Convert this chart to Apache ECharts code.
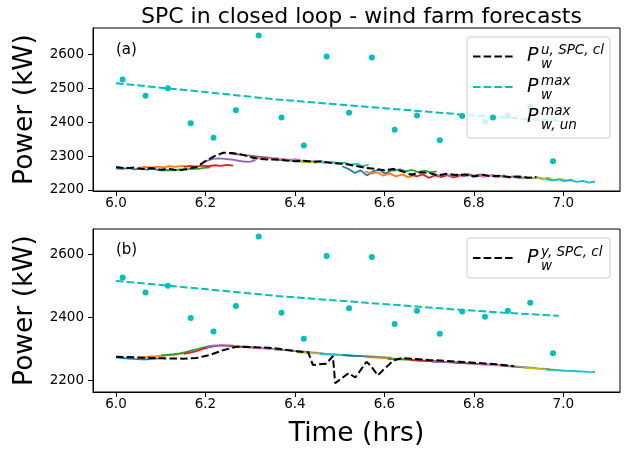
<!DOCTYPE html>
<html>
<head>
<meta charset="utf-8">
<script src="https://cdn.jsdelivr.net/npm/echarts@6.0.0/dist/echarts.min.js"></script>
<style>
html,body{margin:0;padding:0;background:#fff;}
#chart{width:636px;height:451px;}
</style>
</head>
<body>
<div id="chart"></div>
<script>
// ticks
var xTicks = [6.0, 6.2, 6.4, 6.6, 6.8, 7.0];
var yTicksA = [2200, 2300, 2400, 2500, 2600];
var yTicksB = [2200, 2400, 2600];

// forecast windows: start time of each forecast + offsets inside the window (hrs)
var fcStart = [6.000, 6.051, 6.101, 6.152, 6.202, 6.253, 6.304, 6.354, 6.405, 6.455,
               6.506, 6.557, 6.607, 6.658, 6.708, 6.759, 6.810, 6.860, 6.911, 6.961];
var fcOffset = [0, 0.014, 0.028, 0.041, 0.055, 0.069, 0.083, 0.096, 0.11];

// (a) forecasts of u
var fcA = [
  [2264, 2262, 2265, 2261, 2263, 2260, 2262, 2259, 2261],
  [2265, 2268, 2266, 2269, 2267, 2270, 2268, 2271, 2269],
  [2257, 2259, 2258, 2261, 2260, 2263, 2262, 2265, 2267],
  [2268, 2271, 2269, 2272, 2270, 2273, 2271, 2274, 2272],
  [2285, 2292, 2293, 2292, 2290, 2287, 2284, 2283, 2288],
  [2308, 2306, 2304, 2302, 2300, 2298, 2296, 2294, 2293],
  [2292, 2294, 2291, 2293, 2290, 2292, 2289, 2291, 2288],
  [2290, 2288, 2289, 2286, 2287, 2284, 2285, 2283, 2284],
  [2284, 2282, 2283, 2281, 2282, 2280, 2281, 2279, 2280],
  [2284, 2280, 2283, 2278, 2281, 2274, 2278, 2270, 2275],
  [2270, 2262, 2250, 2258, 2243, 2255, 2260, 2248, 2258],
  [2255, 2248, 2252, 2242, 2249, 2240, 2246, 2238, 2243],
  [2260, 2257, 2261, 2255, 2259, 2253, 2257, 2252, 2255],
  [2248, 2240, 2246, 2236, 2243, 2238, 2244, 2237, 2241],
  [2245, 2242, 2246, 2241, 2245, 2240, 2244, 2240, 2243],
  [2246, 2243, 2247, 2242, 2245, 2241, 2244, 2240, 2243],
  [2242, 2239, 2243, 2237, 2241, 2236, 2240, 2235, 2238],
  [2240, 2237, 2240, 2235, 2238, 2234, 2237, 2233, 2236],
  [2238, 2235, 2238, 2232, 2235, 2229, 2233, 2228, 2231],
  [2232, 2228, 2231, 2226, 2229, 2224, 2227, 2222, 2225]
];

// (b) forecasts of y
var fcB = [
  [2272, 2270, 2268, 2267, 2266, 2266, 2267, 2269, 2271],
  [2271, 2273, 2275, 2276, 2278, 2279, 2281, 2284, 2288],
  [2278, 2280, 2282, 2285, 2289, 2294, 2299, 2304, 2308],
  [2283, 2287, 2292, 2298, 2304, 2308, 2310, 2310, 2309],
  [2305, 2309, 2310, 2309, 2308, 2307, 2306, 2305, 2304],
  [2307, 2306, 2305, 2304, 2303, 2302, 2301, 2300, 2299],
  [2302, 2301, 2300, 2299, 2298, 2296, 2295, 2293, 2292],
  [2297, 2296, 2295, 2293, 2291, 2290, 2288, 2286, 2285],
  [2288, 2287, 2286, 2285, 2284, 2283, 2282, 2281, 2280],
  [2283, 2282, 2281, 2280, 2279, 2278, 2277, 2276, 2275],
  [2279, 2278, 2277, 2276, 2275, 2274, 2273, 2272, 2271],
  [2273, 2272, 2271, 2270, 2269, 2268, 2267, 2266, 2265],
  [2267, 2266, 2266, 2265, 2264, 2263, 2262, 2261, 2260],
  [2263, 2262, 2261, 2260, 2259, 2258, 2257, 2256, 2255],
  [2258, 2257, 2257, 2256, 2255, 2254, 2253, 2252, 2251],
  [2255, 2254, 2253, 2252, 2251, 2250, 2249, 2248, 2247],
  [2250, 2249, 2248, 2247, 2246, 2245, 2243, 2242, 2241],
  [2245, 2244, 2243, 2241, 2240, 2239, 2237, 2236, 2235],
  [2239, 2238, 2236, 2235, 2234, 2233, 2231, 2230, 2229],
  [2233, 2232, 2231, 2230, 2229, 2228, 2227, 2226, 2225]
];

// closed loop SPC outputs
var clA_t = [6.00, 6.02, 6.04, 6.06, 6.08, 6.10, 6.12, 6.14, 6.16, 6.18, 6.20, 6.22, 6.24, 6.26, 6.28,
             6.30, 6.32, 6.34, 6.36, 6.38, 6.40, 6.42, 6.44, 6.46, 6.48, 6.50, 6.52, 6.54, 6.56, 6.58,
             6.60, 6.62, 6.64, 6.66, 6.68, 6.70, 6.72, 6.74, 6.76, 6.78, 6.80, 6.82, 6.84, 6.86, 6.88,
             6.90, 6.92, 6.94];
var clA_v = [2268, 2264, 2266, 2262, 2265, 2260, 2262, 2258, 2262, 2268, 2285, 2300, 2310, 2309, 2305,
             2297, 2292, 2290, 2290, 2287, 2285, 2286, 2283, 2285, 2280, 2278, 2275, 2270, 2265, 2262,
             2258, 2262, 2255, 2245, 2252, 2250, 2243, 2248, 2244, 2246, 2240, 2245, 2240, 2242, 2238,
             2240, 2236, 2238];
var clB_t = [6.00, 6.05, 6.10, 6.15, 6.18, 6.21, 6.24, 6.27, 6.30, 6.35, 6.40, 6.43, 6.44, 6.47,
             6.485, 6.49, 6.52, 6.535, 6.56, 6.57, 6.585, 6.62, 6.64, 6.70, 6.77, 6.85, 6.89];
var clB_v = [2274, 2272, 2269, 2268, 2270, 2280, 2295, 2306, 2305, 2302, 2292, 2288, 2248, 2252,
             2276, 2190, 2222, 2208, 2258, 2245, 2215, 2262, 2270, 2264, 2258, 2250, 2244];

// max available power
var pmax_t = [6.00, 6.10, 6.20, 6.36, 6.51, 6.65, 6.77, 6.88, 6.99];
var pmax_v = [2515, 2502, 2489, 2467, 2451, 2436, 2423, 2413, 2404];
var pun_t = [6.015, 6.066, 6.116, 6.167, 6.218, 6.268, 6.319, 6.370, 6.420, 6.471,
             6.521, 6.572, 6.623, 6.673, 6.724, 6.774, 6.825, 6.876, 6.926, 6.977];
var pun_v = [2526, 2478, 2500, 2397, 2354, 2435, 2656, 2414, 2331, 2594,
             2428, 2591, 2378, 2420, 2347, 2418, 2401, 2420, 2446, 2285];

var colors = ['#1f77b4', '#ff7f0e', '#2ca02c', '#d62728', '#9467bd',
              '#8c564b', '#e377c2', '#7f7f7f', '#bcbd22', '#17becf'];
var FONT = 'DejaVu Sans';

function pairs(t, v) {
    var out = [];
    for (var i = 0; i < t.length; i++) out.push([t[i], v[i]]);
    return out;
}

function xAxisCfg(idx, name) {
    return {
        type: 'value', gridIndex: idx, min: 5.9486, max: 7.1268,
        axisLine: {show: true, onZero: false, lineStyle: {color: '#000', width: 1}},
        axisTick: {show: true, length: 5, customValues: xTicks, lineStyle: {color: '#000'}},
        axisLabel: {customValues: xTicks, color: '#000', fontSize: 13.5, fontFamily: FONT, margin: 5,
            formatter: function (v) { return v.toFixed(1); }},
        splitLine: {show: false},
        name: name, nameLocation: 'middle', nameGap: 29,
        nameTextStyle: {color: '#000', fontSize: 26.5, fontFamily: FONT}
    };
}

function yAxisCfg(idx, min, max, ticks) {
    return {
        type: 'value', gridIndex: idx, min: min, max: max,
        axisLine: {show: true, onZero: false, lineStyle: {color: '#000', width: 1}},
        axisTick: {show: true, length: 5, customValues: ticks, lineStyle: {color: '#000'}},
        axisLabel: {customValues: ticks, color: '#000', fontSize: 13.5, fontFamily: FONT, margin: 9,
            formatter: function (v) { return String(v); }},
        splitLine: {show: false},
        name: 'Power (kW)', nameLocation: 'middle', nameGap: 46, nameRotate: 90,
        nameTextStyle: {color: '#000', fontSize: 26.5, fontFamily: FONT}
    };
}

var series = [];
function addPanel(idx, fc, cl_t, cl_v) {
    for (var k = 0; k < fc.length; k++) {
        var d = [];
        for (var j = 0; j < fcOffset.length; j++) d.push([fcStart[k] + fcOffset[j], fc[k][j]]);
        series.push({type: 'line', xAxisIndex: idx, yAxisIndex: idx, data: d, showSymbol: false,
            silent: true, z: 2, lineStyle: {color: colors[k % 10], width: 1.8}});
    }
    series.push({type: 'line', xAxisIndex: idx, yAxisIndex: idx, data: pairs(cl_t, cl_v), showSymbol: false,
        z: 3, lineStyle: {color: '#000', width: 2, type: [7.5, 3.2]}});
    series.push({type: 'line', xAxisIndex: idx, yAxisIndex: idx, data: pairs(pmax_t, pmax_v), showSymbol: false,
        z: 3, lineStyle: {color: '#00bfbf', width: 2, type: [7.5, 3.2]}});
    series.push({type: 'scatter', xAxisIndex: idx, yAxisIndex: idx, data: pairs(pun_t, pun_v),
        symbolSize: 6, z: 4, itemStyle: {color: '#00bfbf', opacity: 1}});
}
addPanel(0, fcA, clA_t, clA_v);
addPanel(1, fcB, clB_t, clB_v);

// legend drawn by hand (mathtext labels)
function txt(x, y, s, size, italic) {
    return {type: 'text', x: x, y: y, z: 100,
        style: {text: s, fill: '#000', font: (italic ? 'italic ' : '') + size + 'px "' + FONT + '"',
            textVerticalAlign: 'middle'}};
}
function mathLabel(x, yc, sup, sub) {
    return [txt(x, yc, 'P', 19, true), txt(x + 14, yc - 6, sup, 13.5, true), txt(x + 14, yc + 8, sub, 13.5, true)];
}
function dashLine(y, color) {
    return {type: 'line', z: 100, shape: {x1: 473, y1: y, x2: 513, y2: y},
        style: {stroke: color, lineWidth: 2, lineDash: [7.5, 3.2]}};
}
var g = [];
g.push({type: 'rect', z: 99, shape: {x: 467, y: 37, width: 143, height: 101, r: 3},
    style: {fill: 'rgba(255,255,255,0.8)', stroke: '#cccccc', lineWidth: 1}});
g.push(dashLine(56.5, '#000'));
g = g.concat(mathLabel(527, 56.5, 'u, SPC, cl', 'w'));
g.push(dashLine(87, '#00bfbf'));
g = g.concat(mathLabel(527, 87, 'max', 'w'));
g.push({type: 'circle', z: 100, shape: {cx: 493, cy: 117.5, r: 3}, style: {fill: '#00bfbf'}});
g = g.concat(mathLabel(527, 117.5, 'max', 'w, un'));
g.push({type: 'rect', z: 99, shape: {x: 467, y: 238, width: 143, height: 40, r: 3},
    style: {fill: 'rgba(255,255,255,0.8)', stroke: '#cccccc', lineWidth: 1}});
g.push(dashLine(258, '#000'));
g = g.concat(mathLabel(527, 258, 'y, SPC, cl', 'w'));
g.push(txt(116, 50, '(a)', 15, false));
g.push(txt(116, 250, '(b)', 15, false));

var myChart = echarts.init(document.getElementById('chart'), null, {renderer: 'canvas'});
var option = {
    animation: false,
    backgroundColor: '#fff',
    title: {
        text: 'SPC in closed loop - wind farm forecasts',
        left: 356.5, textAlign: 'center', top: 1,
        textStyle: {color: '#000', fontSize: 22, fontWeight: 'normal', fontFamily: FONT}
    },
    grid: [
        {left: 93, top: 28, width: 527, height: 163, show: true, borderColor: '#000', borderWidth: 1},
        {left: 93, top: 229, width: 527, height: 163, show: true, borderColor: '#000', borderWidth: 1}
    ],
    xAxis: [xAxisCfg(0, ''), xAxisCfg(1, 'Time (hrs)')],
    yAxis: [yAxisCfg(0, 2197, 2678, yTicksA), yAxisCfg(1, 2162, 2680, yTicksB)],
    series: series,
    graphic: g
};
myChart.setOption(option);
</script>
</body>
</html>
